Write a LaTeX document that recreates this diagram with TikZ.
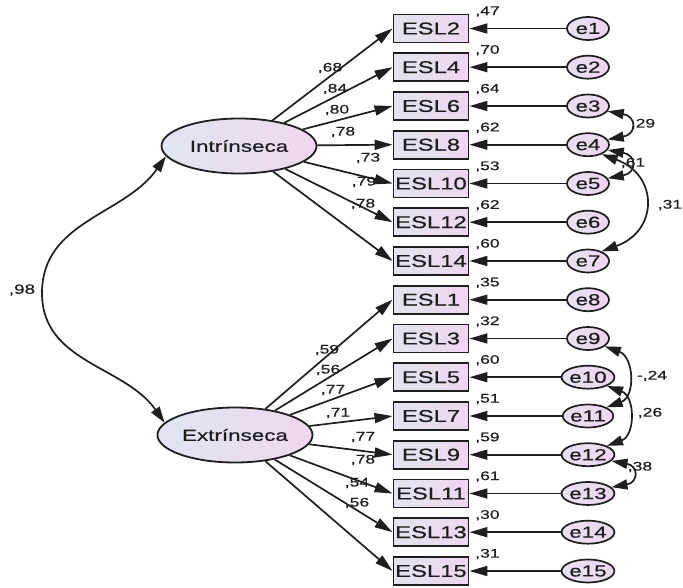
\documentclass[tikz,border=0pt]{standalone}
\usepackage{fontspec}
\setmainfont{Liberation Sans}[FakeStretch=1.4, FakeBold=0.6]
\usetikzlibrary{arrows.meta,shapes.geometric}

\definecolor{boxleft}{RGB}{226,228,238}
\definecolor{boxright}{RGB}{238,214,240}
\definecolor{latleft}{RGB}{224,229,242}
\definecolor{latright}{RGB}{240,214,240}
\definecolor{errleft}{RGB}{232,224,242}
\definecolor{errright}{RGB}{238,214,240}
\definecolor{ink}{RGB}{30,30,30}

\begin{document}
\begin{tikzpicture}[x=1pt, y=1pt, draw=ink, text=ink,
    obs/.style={draw, line width=1.9pt, rectangle, minimum width=75pt,
        minimum height=28pt, inner sep=0pt, left color=boxleft,
        right color=boxright, font=\fontsize{17}{19}\selectfont},
    err/.style={draw, line width=1.7pt, ellipse, minimum width=42pt,
        minimum height=23pt, inner sep=0pt, left color=errleft,
        right color=errright, font=\fontsize{16}{18}\selectfont},
    lat/.style={draw, line width=1.8pt, ellipse, minimum width=155pt,
        minimum height=55pt, inner sep=0pt, left color=latleft,
        right color=latright, font=\fontsize{16}{18}\selectfont},
    coef/.style={inner sep=0pt, font=\fontsize{12.5}{15}\selectfont},
    load/.style={line width=1.7pt, -{Triangle[length=18pt,width=10pt]}},
    corr/.style={line width=1.7pt,
        {Triangle[length=16pt,width=10pt]}-{Triangle[length=16pt,width=10pt]}}]
\useasboundingbox (0, 0) rectangle (683, 587);

% latent factors
\node[lat] (intr) at (239, 441) {Intrínseca};
\node[lat] (extr) at (235, 152) {Extrínseca};

% observed items
\node[obs] (esl2)  at (431, 558.5) {ESL2};
\node[obs] (esl4)  at (431, 519.8) {ESL4};
\node[obs] (esl6)  at (431, 481.0) {ESL6};
\node[obs] (esl8)  at (431, 442.3) {ESL8};
\node[obs] (esl10) at (431, 403.5) {ESL10};
\node[obs] (esl12) at (431, 364.8) {ESL12};
\node[obs] (esl14) at (431, 326.0) {ESL14};
\node[obs] (esl1)  at (431, 287.3) {ESL1};
\node[obs] (esl3)  at (431, 248.5) {ESL3};
\node[obs] (esl5)  at (431, 209.8) {ESL5};
\node[obs] (esl7)  at (431, 171.0) {ESL7};
\node[obs] (esl9)  at (431, 132.3) {ESL9};
\node[obs] (esl11) at (431, 93.5) {ESL11};
\node[obs] (esl13) at (431, 54.8) {ESL13};
\node[obs] (esl15) at (431, 16.0) {ESL15};

% error terms
\node[err] (e1)  at (588, 558.5) {e1};
\node[err] (e2)  at (588, 519.8) {e2};
\node[err] (e3)  at (588, 481.0) {e3};
\node[err] (e4)  at (588, 442.3) {e4};
\node[err] (e5)  at (588, 403.5) {e5};
\node[err] (e6)  at (588, 364.8) {e6};
\node[err] (e7)  at (588, 326.0) {e7};
\node[err] (e8)  at (588, 287.3) {e8};
\node[err] (e9)  at (588, 248.5) {e9};
\node[err] (e10) at (588, 209.8) {e10};
\node[err] (e11) at (588, 171.0) {e11};
\node[err] (e12) at (588, 132.3) {e12};
\node[err] (e13) at (588, 93.5) {e13};
\node[err] (e14) at (588, 54.8) {e14};
\node[err] (e15) at (588, 16.0) {e15};

% factor loadings
\draw[load] (intr) -- (esl2.west);
\draw[load] (intr) -- (esl4.west);
\draw[load] (intr) -- (esl6.west);
\draw[load] (intr) -- (esl8.west);
\draw[load] (intr) -- (esl10.west);
\draw[load] (intr) -- (esl12.west);
\draw[load] (intr) -- (esl14.west);
\draw[load] (extr) -- (esl1.west);
\draw[load] (extr) -- (esl3.west);
\draw[load] (extr) -- (esl5.west);
\draw[load] (extr) -- (esl7.west);
\draw[load] (extr) -- (esl9.west);
\draw[load] (extr) -- (esl11.west);
\draw[load] (extr) -- (esl13.west);
\draw[load] (extr) -- (esl15.west);

\node[coef] (l2)  at (330, 519) {,68};
\node[coef] (l4)  at (335, 498) {,84};
\node[coef] (l6)  at (337, 477) {,80};
\node[coef] (l8)  at (343, 455) {,78};
\node[coef] (l10) at (368, 429) {,73};
\node[coef] (l12) at (364, 405) {,79};
\node[coef] (l14) at (363, 383) {,78};
\node[coef] (l1)  at (327, 237) {,59};
\node[coef] (l3)  at (328, 217) {,56};
\node[coef] (l5)  at (333, 197) {,77};
\node[coef] (l7)  at (338, 174) {,71};
\node[coef] (l9)  at (363, 150) {,77};
\node[coef] (l11) at (363, 127) {,78};
\node[coef] (l13) at (357, 104) {,54};
\node[coef] (l15) at (357, 84) {,56};

% error paths
\draw[load] (e1) -- (esl2);
\draw[load] (e2) -- (esl4);
\draw[load] (e3) -- (esl6);
\draw[load] (e4) -- (esl8);
\draw[load] (e5) -- (esl10);
\draw[load] (e6) -- (esl12);
\draw[load] (e7) -- (esl14);
\draw[load] (e8) -- (esl1);
\draw[load] (e9) -- (esl3);
\draw[load] (e10) -- (esl5);
\draw[load] (e11) -- (esl7);
\draw[load] (e12) -- (esl9);
\draw[load] (e13) -- (esl11);
\draw[load] (e14) -- (esl13);
\draw[load] (e15) -- (esl15);

% squared correlations
\node[coef] (r2)  at ([shift={(18,2)}]esl2.north east) {,47};
\node[coef] (r4)  at ([shift={(18,2)}]esl4.north east) {,70};
\node[coef] (r6)  at ([shift={(18,2)}]esl6.north east) {,64};
\node[coef] (r8)  at ([shift={(18,2)}]esl8.north east) {,62};
\node[coef] (r10) at ([shift={(18,2)}]esl10.north east) {,53};
\node[coef] (r12) at ([shift={(18,2)}]esl12.north east) {,62};
\node[coef] (r14) at ([shift={(18,2)}]esl14.north east) {,60};
\node[coef] (r1)  at ([shift={(18,2)}]esl1.north east) {,35};
\node[coef] (r3)  at ([shift={(18,2)}]esl3.north east) {,32};
\node[coef] (r5)  at ([shift={(18,2)}]esl5.north east) {,60};
\node[coef] (r7)  at ([shift={(18,2)}]esl7.north east) {,51};
\node[coef] (r9)  at ([shift={(18,2)}]esl9.north east) {,59};
\node[coef] (r11) at ([shift={(18,2)}]esl11.north east) {,61};
\node[coef] (r13) at ([shift={(18,2)}]esl13.north east) {,30};
\node[coef] (r15) at ([shift={(18,2)}]esl15.north east) {,31};

% covariances
\coordinate (bend) at (42, 294);
\draw[corr] (intr.188) to[out=235, in=90] (bend) to[out=270, in=125] (extr.170);
\node[coef, font=\fontsize{13.5}{16}\selectfont] (c98) at (22, 297) {,98};

\draw[corr] (e3.-15) to[out=-10, in=10, looseness=2.7] (e4.15);
\draw[corr] (e4.-15) to[out=-10, in=10, looseness=2.7] (e5.15);
\draw[corr] (e4.-35) to[out=-20, in=20, looseness=1.6] (e7.35);
\draw[corr] (e9.-25) to[out=-20, in=20, looseness=1.3] (e11.25);
\draw[corr] (e10.-25) to[out=-20, in=20, looseness=1.3] (e12.25);
\draw[corr] (e12.-15) to[out=-10, in=10, looseness=2.7] (e13.15);

\node[coef] (c29) at (643, 463) {,29};
\node[coef] (c61) at (633, 424) {,61};
\node[coef] (c31) at (670, 382) {,31};
\node[coef] (c24) at (652, 211) {-,24};
\node[coef] (c26) at (650, 174) {,26};
\node[coef] (c38) at (640, 120) {,38};
\end{tikzpicture}
\end{document}
